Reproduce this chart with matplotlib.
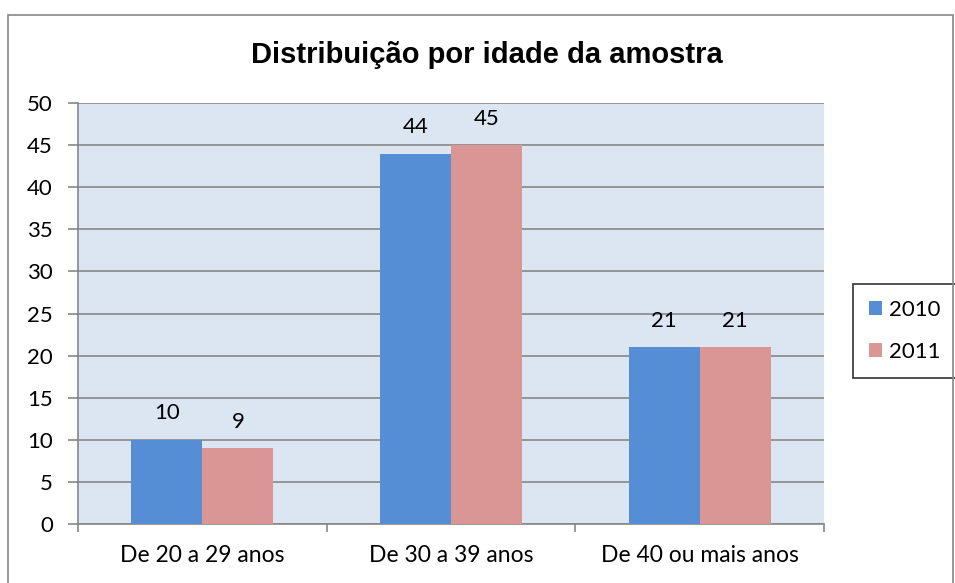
"""Bar chart: age distribution of the sample, 2010 vs 2011."""

import matplotlib
matplotlib.use("Agg")
import matplotlib.pyplot as plt
from matplotlib.patches import Rectangle
import numpy as np

categories = ["De 20 a 29 anos", "De 30 a 39 anos", "De 40 ou mais anos"]
values_2010 = [10, 44, 21]
values_2011 = [9, 45, 21]
series_names = ["2010", "2011"]

plt.rcParams["font.family"] = ["Lato", "DejaVu Sans"]

fig = plt.figure(figsize=(9.55, 5.83), dpi=100)

# outer chart frame
fig.patches.append(Rectangle((8 / 955, -0.05), 945 / 955, 1 - 15 / 583 + 0.05,
                             transform=fig.transFigure, fill=False,
                             edgecolor="#868686", linewidth=1.2))

ax = fig.add_axes([78 / 955, 1 - 524 / 583, 746 / 955, 421 / 583])
ax.set_facecolor("#DCE6F2")

x = np.arange(len(categories))
w = 0.286
b1 = ax.bar(x - w / 2, values_2010, w, color="#558ED5", label=series_names[0], zorder=3)
b2 = ax.bar(x + w / 2, values_2011, w, color="#D99694", label=series_names[1], zorder=3)

for bars in (b1, b2):
    for rect in bars:
        ax.annotate(str(int(rect.get_height())),
                    (rect.get_x() + rect.get_width() / 2, rect.get_height()),
                    xytext=(0, 19), textcoords="offset points",
                    ha="center", va="center", fontsize=16)

ax.set_xlim(-0.5, len(categories) - 0.5)
ax.set_ylim(0, 50)
ax.set_yticks(range(0, 51, 5))
ax.yaxis.grid(True, color="#868686", linewidth=1.2, zorder=0)
ax.set_axisbelow(True)

ax.set_xticks(np.arange(-0.5, len(categories), 1.0))
ax.set_xticklabels([])
ax.set_xticks(x, minor=True)
ax.set_xticklabels(categories, minor=True, fontsize=16.5)
ax.tick_params(axis="x", which="minor", length=0, pad=15)
ax.tick_params(axis="x", which="major", length=6, color="#868686", width=1.2)
ax.tick_params(axis="y", length=7, color="#868686", width=1.2, labelsize=16, pad=11)

for side in ("top", "right"):
    ax.spines[side].set_visible(False)
for side in ("left", "bottom"):
    ax.spines[side].set_color("#868686")
    ax.spines[side].set_linewidth(1.2)

fig.text(487 / 955, 1 - 55 / 583, "Distribuição por idade da amostra",
         ha="center", va="center", fontsize=21, fontweight="bold",
         family=["Liberation Sans", "DejaVu Sans"])

leg = ax.legend(loc="center left", bbox_to_anchor=(853 / 955, 1 - 331 / 583),
                bbox_transform=fig.transFigure, frameon=True, fancybox=False,
                fontsize=16, handlelength=0.6, handleheight=0.6,
                labelspacing=1.0, borderpad=0.7, handletextpad=0.3,
                borderaxespad=0)
leg.get_frame().set_edgecolor("black")
leg.get_frame().set_linewidth(1.2)

fig.savefig("out.png", dpi=100)
